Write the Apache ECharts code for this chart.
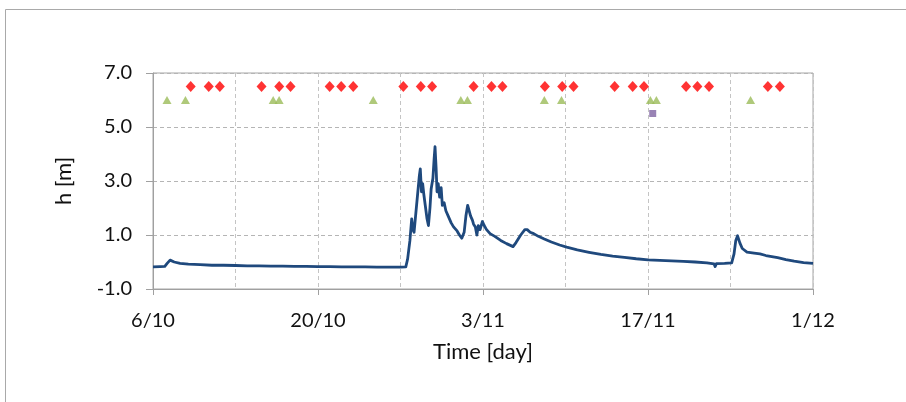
<!DOCTYPE html>
<html>
<head>
<meta charset="utf-8">
<script src="https://cdn.jsdelivr.net/npm/echarts@6/dist/echarts.min.js"></script>
<style>
  html, body { margin: 0; padding: 0; background: #ffffff; }
  #chart { width: 906px; height: 402px; }
</style>
</head>
<body>
<div id="chart"></div>
<script>
// Water level h [m] over time; x is days since 6/10
const levelDays = [0,0.6,1.0,1.2,1.45,1.8,2.3,3,4,5,6,7,8,9,10,11,12,13,14,15,16,17,18,19,20,21,21.45,21.6,21.8,21.95,22.05,22.15,22.3,22.45,22.6,22.68,22.78,22.88,22.98,23.1,23.25,23.37,23.5,23.6,23.75,23.85,23.93,24.02,24.1,24.2,24.32,24.45,24.55,24.7,24.85,25.05,25.3,25.5,25.8,26.0,26.2,26.4,26.55,26.7,26.8,26.95,27.1,27.2,27.35,27.48,27.6,27.75,27.95,28.1,28.3,28.6,29.0,29.5,30.0,30.55,30.8,31.2,31.55,31.75,32.0,32.3,32.7,33.2,33.8,34.5,35.1,36,37,38,39,40,41,42,43,44,45,46,47,47.6,47.7,47.8,48.5,49.1,49.3,49.45,49.6,49.8,50.0,50.4,51.0,51.5,52.0,52.5,53.0,53.7,54.4,55.2,56];
const levelValues = [-0.18,-0.17,-0.16,-0.05,0.07,0.0,-0.05,-0.08,-0.1,-0.12,-0.12,-0.13,-0.14,-0.14,-0.15,-0.15,-0.16,-0.16,-0.17,-0.17,-0.18,-0.18,-0.18,-0.19,-0.19,-0.19,-0.18,0.1,0.8,1.6,1.2,1.1,1.8,2.5,3.2,3.45,2.6,2.9,2.5,2.1,1.6,1.35,2.0,2.7,3.1,3.8,4.27,3.5,2.6,2.9,2.4,2.75,2.1,2.2,1.9,1.7,1.45,1.3,1.15,1.0,0.88,1.1,1.7,2.1,2.05,1.7,1.55,1.4,1.3,1.0,1.35,1.2,1.5,1.35,1.2,1.05,0.95,0.8,0.68,0.57,0.72,1.0,1.2,1.2,1.1,1.05,0.95,0.85,0.74,0.63,0.55,0.45,0.36,0.28,0.22,0.17,0.12,0.08,0.06,0.04,0.02,0.0,-0.03,-0.07,-0.17,-0.06,-0.05,-0.03,0.3,0.8,0.97,0.7,0.5,0.37,0.33,0.3,0.24,0.2,0.16,0.09,0.03,-0.02,-0.05];

// Event markers (day offsets) and the levels they are plotted at
const diamondDays = [3.2,4.73,5.67,9.21,10.71,11.67,14.99,15.97,16.99,21.24,22.72,23.68,27.2,28.72,29.65,33.25,34.72,35.68,39.17,40.7,41.66,45.23,46.19,47.18,52.17,53.19];
const diamondLevel = 6.5;
const triangleDays = [1.19,2.75,10.2,10.7,18.69,26.12,26.68,33.2,34.66,42.2,42.71,50.7];
const triangleLevel = 6.0;
const squareDays = [42.4];
const squareLevel = 5.5;

// Axis tick labels
const xTickLabels = ['6/10', '20/10', '3/11', '17/11', '1/12'];
const yTicks = [-1, 1, 3, 5, 7];

const FONT = 'Lato';
const chart = echarts.init(document.getElementById('chart'), null, { renderer: 'canvas' });

const pairs = (xs, ys) => xs.map((x, i) => [x, Array.isArray(ys) ? ys[i] : ys]);

chart.setOption({
  animation: false,
  backgroundColor: '#ffffff',
  graphic: [{
    type: 'rect',
    shape: { x: 5.5, y: 9.5, width: 1000, height: 1000 },
    style: { fill: 'none', stroke: '#a9a9a9', lineWidth: 1 },
    silent: true
  }],
  grid: {
    left: 153, right: 93, top: 73, bottom: 113,
    show: true, borderColor: '#a6a6a6', borderWidth: 1, backgroundColor: 'transparent'
  },
  xAxis: [{
    type: 'value', min: 0, max: 56, interval: 14,
    name: 'Time [day]', nameLocation: 'middle', nameGap: 52,
    nameTextStyle: { fontFamily: FONT, fontSize: 22, color: '#111111' },
    axisLine: { show: true, onZero: false, lineStyle: { color: '#a0a0a0', width: 1 } },
    axisTick: { show: true, length: 6, lineStyle: { color: '#a0a0a0' } },
    axisLabel: {
      margin: 22, fontFamily: FONT, fontSize: 20, color: '#111111',
      formatter: v => xTickLabels[Math.round(v / 14)] || ''
    },
    splitLine: { show: false }
  }, {
    type: 'value', min: 0, max: 56, interval: 7, position: 'bottom',
    axisLine: { show: false, onZero: false }, axisTick: { show: false }, axisLabel: { show: false },
    splitLine: { show: true, lineStyle: { color: '#c4c4c4', type: [4, 3], width: 1 } }
  }],
  yAxis: {
    type: 'value', min: yTicks[0], max: yTicks[yTicks.length - 1], interval: 2,
    name: 'h [m]', nameLocation: 'middle', nameGap: 78, nameRotate: 90,
    nameTextStyle: { fontFamily: FONT, fontSize: 22, color: '#111111' },
    axisLine: { show: true, onZero: false, lineStyle: { color: '#a0a0a0', width: 1 } },
    axisTick: { show: true, length: 7, lineStyle: { color: '#a0a0a0' } },
    axisLabel: {
      margin: 21, fontFamily: FONT, fontSize: 20, color: '#111111',
      formatter: v => v.toFixed(1)
    },
    splitLine: { show: true, lineStyle: { color: '#b5b5b5', type: [4, 3], width: 1.2 } }
  },
  series: [{
    name: 'h', type: 'line', xAxisIndex: 0,
    data: pairs(levelDays, levelValues),
    showSymbol: false, symbol: 'none', smooth: false,
    lineStyle: { color: '#1F497D', width: 2.8, join: 'round' },
    z: 3
  }, {
    name: 'diamond', type: 'scatter', xAxisIndex: 0,
    data: pairs(diamondDays, diamondLevel),
    symbol: 'diamond', symbolSize: [10, 11],
    itemStyle: { color: '#FF0000' }, z: 4
  }, {
    name: 'triangle', type: 'scatter', xAxisIndex: 0,
    data: pairs(triangleDays, triangleLevel),
    symbol: 'triangle', symbolSize: [9, 8],
    itemStyle: { color: '#9BBB59' }, z: 4
  }, {
    name: 'square', type: 'scatter', xAxisIndex: 0,
    data: pairs(squareDays, squareLevel),
    symbol: 'rect', symbolSize: 7,
    itemStyle: { color: '#8064A2' }, z: 4
  }]
});
</script>
</body>
</html>
